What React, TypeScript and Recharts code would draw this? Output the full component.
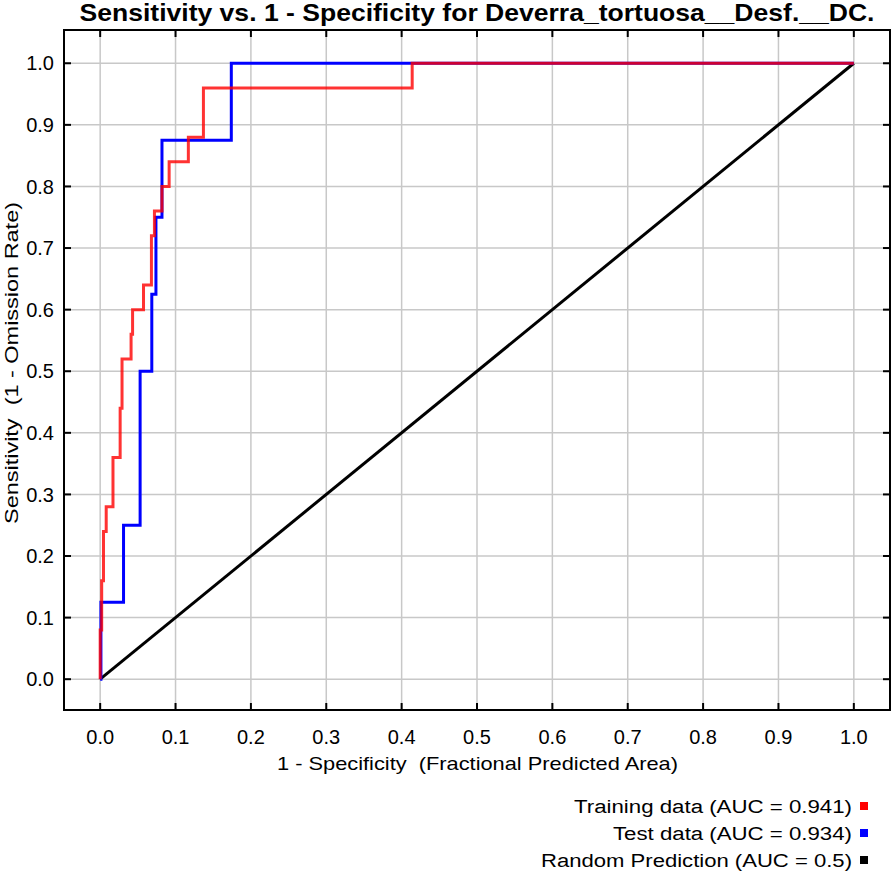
import React from 'react';
import { LineChart, Line, XAxis, YAxis, CartesianGrid, ReferenceLine, ReferenceArea } from 'recharts';

// ROC curve corners (1 - specificity, sensitivity)
const trainFpr = [0, 0, 0.002, 0.0044, 0.008, 0.017, 0.0265, 0.029, 0.041, 0.043, 0.0575, 0.068, 0.072, 0.082, 0.0915, 0.117, 0.137, 0.414, 1.0];
const trainTpr = [0, 0.08, 0.16, 0.24, 0.28, 0.36, 0.44, 0.52, 0.56, 0.6, 0.64, 0.72, 0.76, 0.8, 0.84, 0.88, 0.96, 1.0, 1.0];

const testFpr = [0, 0.001, 0.031, 0.053, 0.0685, 0.074, 0.082, 0.174, 1.0];
const testTpr = [0, 0.125, 0.25, 0.5, 0.625, 0.75, 0.875, 1.0, 1.0];

const randomFpr = [0, 1];
const randomTpr = [0, 1];

const ticks = [0, 0.1, 0.2, 0.3, 0.4, 0.5, 0.6, 0.7, 0.8, 0.9, 1.0];

const legendItems = [
  { label: 'Training data (AUC = 0.941)', color: '#ff0000' },
  { label: 'Test data (AUC = 0.934)', color: '#0000ff' },
  { label: 'Random Prediction (AUC = 0.5)', color: '#000000' },
];

const title = 'Sensitivity vs. 1 - Specificity for Deverra_tortuosa__Desf.__DC.';

const toPoints = (xs: number[], ys: number[]) => xs.map((x, i) => ({ x, y: ys[i] }));

const X_MIN = -0.048;
const X_MAX = 1.048;
const Y_MIN = -0.05;
const Y_MAX = 1.054;
const XT = 0.0093; // inward tick length in x units
const YT = 0.0114; // inward tick length in y units

const FONT = '"Liberation Sans", Arial, sans-serif';

export default function App() {
  const legendWidths = [278, 239, 311];
  const legendBase = [813, 840, 867];
  return (
    <div style={{ position: 'absolute', left: 0, top: 0, width: 896, height: 879, background: '#fff' }}>
      <LineChart width={896} height={879} margin={{ top: 30, right: 6, left: 8, bottom: 129 }}>
        <CartesianGrid stroke="#c8c8c8" strokeWidth={1.5} />
        <XAxis
          type="number"
          dataKey="x"
          domain={[X_MIN, X_MAX]}
          ticks={ticks}
          tickFormatter={(v: number) => v.toFixed(1)}
          axisLine={false}
          tickLine={false}
          height={40}
          tickMargin={14}
          tick={{ fontSize: 20, fill: '#000', fontFamily: FONT }}
          allowDataOverflow
        />
        <YAxis
          type="number"
          dataKey="y"
          domain={[Y_MIN, Y_MAX]}
          ticks={ticks}
          tickFormatter={(v: number) => v.toFixed(1)}
          axisLine={false}
          tickLine={false}
          width={56}
          tickMargin={4}
          tick={{ fontSize: 20, fill: '#000', fontFamily: FONT }}
          allowDataOverflow
        />
        {ticks.map((t) => (
          <ReferenceLine key={'b' + t} segment={[{ x: t, y: Y_MIN }, { x: t, y: Y_MIN + YT }]} stroke="#000" strokeWidth={2} ifOverflow="visible" />
        ))}
        {ticks.map((t) => (
          <ReferenceLine key={'t' + t} segment={[{ x: t, y: Y_MAX }, { x: t, y: Y_MAX - YT }]} stroke="#000" strokeWidth={2} ifOverflow="visible" />
        ))}
        {ticks.map((t) => (
          <ReferenceLine key={'l' + t} segment={[{ x: X_MIN, y: t }, { x: X_MIN + XT, y: t }]} stroke="#000" strokeWidth={2} ifOverflow="visible" />
        ))}
        {ticks.map((t) => (
          <ReferenceLine key={'r' + t} segment={[{ x: X_MAX, y: t }, { x: X_MAX - XT, y: t }]} stroke="#000" strokeWidth={2} ifOverflow="visible" />
        ))}
        <ReferenceArea x1={X_MIN} x2={X_MAX} y1={Y_MIN} y2={Y_MAX} fill="none" fillOpacity={0} stroke="#000" strokeWidth={2} ifOverflow="visible" />
        <Line
          data={toPoints(randomFpr, randomTpr)}
          dataKey="y"
          type="linear"
          stroke="#000"
          strokeWidth={3}
          dot={false}
          isAnimationActive={false}
        />
        <Line
          data={toPoints(testFpr, testTpr)}
          dataKey="y"
          type="stepAfter"
          stroke="#0000ff"
          strokeWidth={3}
          dot={false}
          isAnimationActive={false}
        />
        <Line
          data={toPoints(trainFpr, trainTpr)}
          dataKey="y"
          type="stepAfter"
          stroke="#ff0000"
          strokeOpacity={0.8}
          strokeWidth={3}
          dot={false}
          isAnimationActive={false}
        />
      </LineChart>
      <svg width={896} height={879} style={{ position: 'absolute', left: 0, top: 0, pointerEvents: 'none' }}>
        <text x={477} y={21} textAnchor="middle" fontFamily={FONT} fontWeight="bold" fontSize={24} textLength={795} lengthAdjust="spacingAndGlyphs" fill="#000">
          {title}
        </text>
        <g transform="translate(18, 363) rotate(-90)">
          <text x={0} y={0} textAnchor="middle" fontFamily={FONT} fontSize={18} textLength={322} lengthAdjust="spacingAndGlyphs" fill="#000" style={{ whiteSpace: 'pre' }}>
            {'Sensitivity  (1 - Omission Rate)'}
          </text>
        </g>
        <text x={477.5} y={770} textAnchor="middle" fontFamily={FONT} fontSize={19} textLength={401} lengthAdjust="spacingAndGlyphs" fill="#000" style={{ whiteSpace: 'pre' }}>
          {'1 - Specificity  (Fractional Predicted Area)'}
        </text>
        {legendItems.map((it, i) => (
          <g key={it.label}>
            <text x={852} y={legendBase[i]} textAnchor="end" fontFamily={FONT} fontSize={18} textLength={legendWidths[i]} lengthAdjust="spacingAndGlyphs" fill="#000">
              {it.label}
            </text>
            <rect x={860} y={legendBase[i] - 11} width={8} height={8} fill={it.color} />
          </g>
        ))}
      </svg>
    </div>
  );
}
